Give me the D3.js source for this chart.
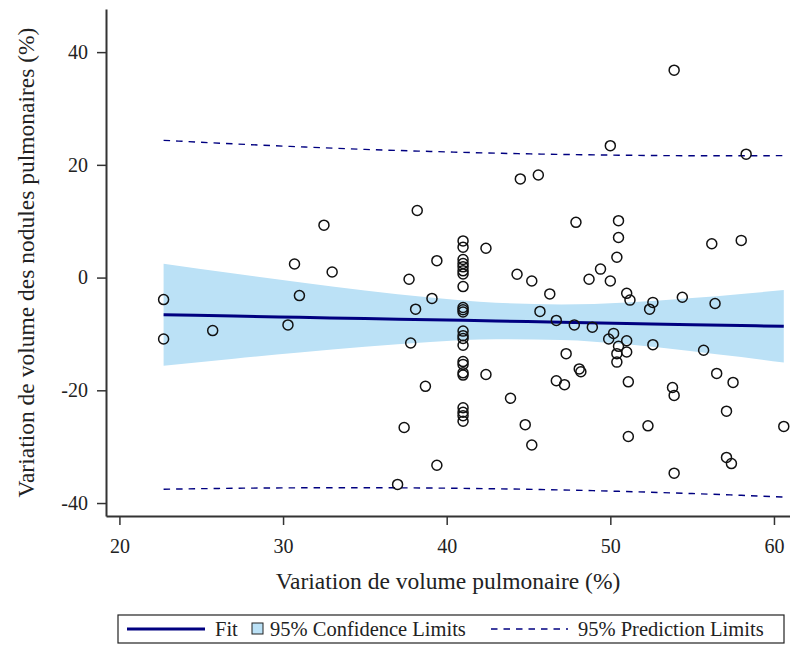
<!DOCTYPE html>
<html>
<head>
<meta charset="utf-8">
<script src="https://cdn.jsdelivr.net/npm/d3@7"></script>
<style>
  body { margin: 0; background: #fff; }
  svg text { font-family: "Liberation Serif", "Times New Roman", serif; fill: #222; }
</style>
</head>
<body>
<div id="chart"></div>
<script>

// Scatter points: lung volume change (x) vs nodule volume change (y)
var pointsX = [
	22.7, 22.7, 25.7, 30.3, 30.7, 31.0, 32.5, 33.0,
	37.0, 37.4, 37.7, 37.8, 38.1, 38.2, 38.7, 39.1, 39.4, 39.4,
	41.0, 41.0, 41.0, 41.0, 41.0, 41.0, 41.0, 41.0, 41.0, 41.0, 41.0, 41.0,
	41.0, 41.0, 41.0, 41.0, 41.0, 41.0, 41.0, 41.0, 41.0, 41.0, 41.0,
	42.4, 42.4, 43.9, 44.3, 44.5, 44.8, 45.2, 45.2, 45.6, 45.7, 46.3, 46.7,
	46.7, 47.2, 47.3, 47.8, 47.9, 48.1, 48.2, 48.7, 48.9, 49.4, 50.0, 50.0,
	49.9, 50.2, 50.4, 50.5, 50.5, 50.5, 50.4, 50.4, 51.0, 51.2, 51.0, 51.0,
	51.1, 51.1, 52.3, 52.4, 52.6, 52.6, 53.8, 53.9, 53.9, 53.9, 54.4, 55.7,
	56.2, 56.4, 56.5, 57.1, 57.1, 57.4, 57.5, 58.0, 58.3, 60.6
];
var pointsY = [
	-3.9, -10.9, -9.4, -8.4, 2.4, -3.2, 9.3, 1.0,
	-36.7, -26.6, -0.3, -11.6, -5.6, 11.9, -19.3, -3.7, 3.0, -33.3,
	6.5, 5.4, 3.2, 2.5, 1.9, 1.2, 0.65, -1.6, -5.3, -5.7, -6.1, -9.5,
	-10.3, -10.8, -12.0, -14.9, -15.4, -16.9, -17.3, -23.1, -23.9, -24.5, -25.5,
	5.2, -17.2, -21.4, 0.6, 17.5, -26.1, -0.6, -29.7, 18.2, -6.0, -2.9, -7.6,
	-18.3, -19.0, -13.5, -8.4, 9.8, -16.2, -16.7, -0.3, -8.8, 1.5, 23.4, -0.6,
	-10.9, -9.9, 3.6, 7.1, 10.1, -12.2, -13.5, -15.0, -2.8, -4.0, -11.2, -13.2,
	-18.5, -28.2, -26.3, -5.6, -4.4, -11.9, -19.5, -20.9, 36.8, -34.7, -3.5, -12.9,
	6.0, -4.6, -17.0, -23.7, -31.9, -33.0, -18.6, 6.6, 21.9, -26.4
];

// Fit line and limits, read at these x positions
var bandX     = [22.7, 27, 31, 35, 39, 43, 47, 51, 55, 58, 60.6];
var fitY      = [-6.60, -6.83, -7.05, -7.27, -7.48, -7.70, -7.91, -8.13, -8.35, -8.51, -8.65];
var confUpper = [2.45, 0.73, -0.82, -2.28, -3.55, -4.46, -4.76, -4.41, -3.64, -2.91, -2.22];
var confLower = [-15.65, -14.39, -13.28, -12.26, -11.41, -10.94, -11.06, -11.85, -13.06, -14.11, -15.08];
var predUpper = [24.35, 23.72, 23.2, 22.74, 22.38, 22.07, 21.85, 21.7, 21.62, 21.61, 21.64];
var predLower = [-37.55, -37.38, -37.3, -37.28, -37.34, -37.47, -37.67, -37.96, -38.32, -38.63, -38.94];

var xTicks = [20, 30, 40, 50, 60];
var yTicks = [-40, -20, 0, 20, 40];

var xTitle = 'Variation de volume pulmonaire (%)';
var yTitle = 'Variation de volume des nodules pulmonaires (%)';
var legendLabels = ['Fit', '95% Confidence Limits', '95% Prediction Limits'];

var width = 790, height = 646;
var plot = { left: 106, top: 9, right: 790, bottom: 516 };
var serif = '"Liberation Serif", "Times New Roman", serif';

var navy = '#000080',
	bandFill = '#bbe1f6',
	axisColor = '#333';

var svg = d3.select('#chart').append('svg')
	.attr('width', width)
	.attr('height', height)
	.attr('font-family', serif);

var x = d3.scaleLinear().domain([19.18, 60.98]).range([plot.left, plot.right]);
var y = d3.scaleLinear().domain([-42.3, 47.65]).range([plot.bottom, plot.top]);

// Confidence band:
var area = d3.area()
	.x(function(d, i) { return x(bandX[i]); })
	.y0(function(d, i) { return y(confLower[i]); })
	.y1(function(d, i) { return y(confUpper[i]); })
	.curve(d3.curveMonotoneX);

svg.append('path')
	.datum(bandX)
	.attr('d', area)
	.attr('fill', bandFill);

// Lines through the read values:
function limitLine( vals ) {
	return d3.line()
		.x(function(d, i) { return x(bandX[i]); })
		.y(function(d, i) { return y(vals[i]); })
		.curve(d3.curveMonotoneX)(bandX);
}

// Prediction limits (dashed):
[predUpper, predLower].forEach(function(vals) {
	svg.append('path')
		.attr('d', limitLine(vals))
		.attr('fill', 'none')
		.attr('stroke', navy)
		.attr('stroke-width', 1.4)
		.attr('stroke-dasharray', '6.5,6');
});

// Fit line:
svg.append('path')
	.attr('d', limitLine(fitY))
	.attr('fill', 'none')
	.attr('stroke', navy)
	.attr('stroke-width', 3);

// Points:
svg.append('g').selectAll('circle')
	.data(pointsX)
	.enter().append('circle')
		.attr('cx', function(d) { return x(d); })
		.attr('cy', function(d, i) { return y(pointsY[i]); })
		.attr('r', 5)
		.attr('fill', 'none')
		.attr('stroke', '#111')
		.attr('stroke-width', 1.5);

// Axes (plain hyphen for negatives, as in the original):
var fmt = function(d) { return String(d); };

var xAxis = svg.append('g')
	.attr('transform', 'translate(0,' + plot.bottom + ')')
	.call(d3.axisBottom(x).tickValues(xTicks).tickFormat(fmt).tickSize(9).tickSizeOuter(0).tickPadding(14));

var yAxis = svg.append('g')
	.attr('transform', 'translate(' + plot.left + ',0)')
	.call(d3.axisLeft(y).tickValues(yTicks).tickFormat(fmt).tickSize(9).tickSizeOuter(0).tickPadding(9));

[xAxis, yAxis].forEach(function(ax) {
	ax.attr('font-family', serif);
	ax.select('.domain').attr('stroke', axisColor).attr('stroke-width', 2);
	ax.selectAll('.tick line').attr('stroke', axisColor).attr('stroke-width', 1.5);
	ax.selectAll('.tick text')
		.attr('font-size', 20)
		.attr('fill', '#222');
});

// Axis titles:
svg.append('text')
	.attr('x', (plot.left + plot.right) / 2)
	.attr('y', 589)
	.attr('text-anchor', 'middle')
	.attr('font-size', 23.5)
	.text(xTitle);

svg.append('text')
	.attr('transform', 'translate(34,' + (plot.top + plot.bottom) / 2 + ') rotate(-90)')
	.attr('text-anchor', 'middle')
	.attr('font-size', 23.5)
	.text(yTitle);

// Legend:
var legend = svg.append('g');
var ly = 629;

legend.append('rect')
	.attr('x', 118).attr('y', 615)
	.attr('width', 666).attr('height', 28)
	.attr('fill', 'none')
	.attr('stroke', '#222')
	.attr('stroke-width', 1.2);

legend.append('line')
	.attr('x1', 127).attr('x2', 205)
	.attr('y1', ly).attr('y2', ly)
	.attr('stroke', navy)
	.attr('stroke-width', 3);

legend.append('text')
	.attr('x', 215).attr('y', ly + 7)
	.attr('font-size', 20.5)
	.text(legendLabels[0]);

legend.append('rect')
	.attr('x', 252).attr('y', ly - 6)
	.attr('width', 11).attr('height', 11)
	.attr('fill', bandFill)
	.attr('stroke', '#222')
	.attr('stroke-width', 1);

legend.append('text')
	.attr('x', 270).attr('y', ly + 7)
	.attr('font-size', 20.5)
	.text(legendLabels[1]);

legend.append('line')
	.attr('x1', 491).attr('x2', 568)
	.attr('y1', ly).attr('y2', ly)
	.attr('stroke', navy)
	.attr('stroke-width', 1.4)
	.attr('stroke-dasharray', '6.5,6');

legend.append('text')
	.attr('x', 578).attr('y', ly + 7)
	.attr('font-size', 20.5)
	.text(legendLabels[2]);

</script>
</body>
</html>
